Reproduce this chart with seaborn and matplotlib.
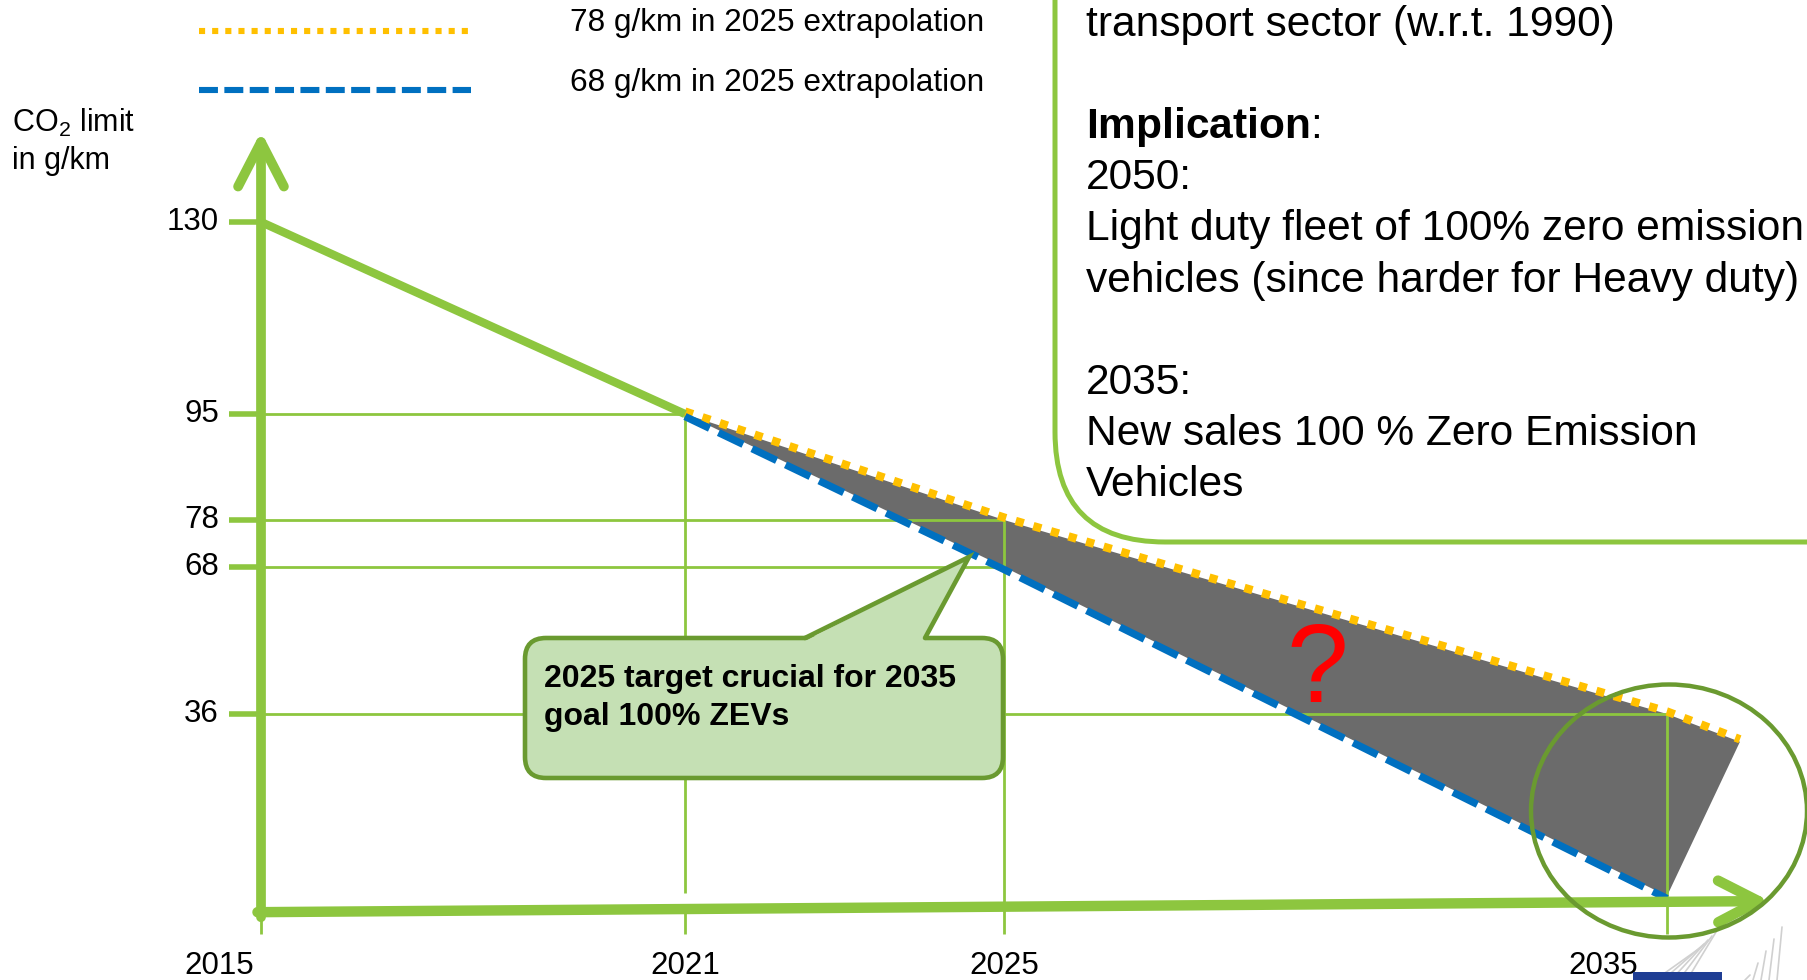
import numpy as np
import matplotlib
matplotlib.use("Agg")
import matplotlib.pyplot as plt
from matplotlib.patches import FancyBboxPatch, Ellipse, Polygon, Rectangle
from matplotlib.transforms import offset_copy
import seaborn as sns

# CO2 limits for new cars (g/km)
hist_years = [2015, 2021]
hist_limits = [130, 95]
high_years = [2021, 2025, 2035, 2036.1]      # 78 g/km in 2025, extrapolated
high_limits = [95, 78, 36, 30.5]
low_years = [2021, 2025, 2035]               # 68 g/km in 2025, extrapolated
low_limits = [95, 68, 0]
tick_years = [2015, 2021, 2025, 2035]
tick_limits = [130, 95, 78, 68, 36]
legend_labels = ["78 g/km in 2025 extrapolation", "68 g/km in 2025 extrapolation"]
box_lines = ["transport sector (w.r.t. 1990)", "", r"$\mathbf{Implication}$:", "2050:",
             "Light duty fleet of 100% zero emission",
             "vehicles (since harder for Heavy duty)", "", "2035:",
             "New sales 100 % Zero Emission", "Vehicles"]
callout_lines = ["2025 target crucial for 2035", "goal 100% ZEVs"]

GREEN = "#8DC63F"
DKGREEN = "#6A9A30"
YELLOW = "#FFC000"
BLUE = "#0070C0"
GRAY = "#6B6B6B"
CALLOUT = "#C5E0B4"

W, H = 1808, 980

sns.set_theme(style="white")
plt.rcParams["font.family"] = ["Liberation Sans", "DejaVu Sans"]
plt.rcParams["text.color"] = "black"
plt.rcParams["mathtext.fontset"] = "custom"
plt.rcParams["mathtext.rm"] = "Liberation Sans"
plt.rcParams["mathtext.bf"] = "Liberation Sans:bold"


def piecewise(src, dst):
    src = np.asarray(src, float)
    dst = np.asarray(dst, float)

    def f(v):
        v = np.asarray(v, float)
        lo = dst[0] + (v - src[0]) * (dst[1] - dst[0]) / (src[1] - src[0])
        hi = dst[-1] + (v - src[-1]) * (dst[-1] - dst[-2]) / (src[-1] - src[-2])
        return np.where(v < src[0], lo, np.where(v > src[-1], hi, np.interp(v, src, dst)))
    return f


# the slide is not drawn to scale: piecewise axes
x_src, x_px = [2015, 2021, 2025, 2035], [261, 685, 1004, 1667]
y_src, y_px = [0, 36, 68, 78, 95, 130], [H - 896, H - 714, H - 567, H - 520, H - 414, H - 222]
fx, ix = piecewise(x_src, x_px), piecewise(x_px, x_src)
fy, iy = piecewise(y_src, y_px), piecewise(y_px, y_src)

fig = plt.figure(figsize=(W / 100, H / 100), dpi=100)
ax = fig.add_axes([0, 0, 1, 1])
ax.set_xscale("function", functions=(fx, ix))
ax.set_yscale("function", functions=(fy, iy))

AXIS_Y0, AXIS_Y1 = -3.2, -1.0   # x axis is slightly tilted on the slide
TICK_LOW = -7.6

# grey band between the two extrapolations
ax.fill(high_years + low_years[::-1], high_limits + low_limits[::-1], color=GRAY, lw=0, zorder=1)

# guide lines
grid_kw = dict(color=GREEN, lw=2.0, zorder=2, solid_capstyle="butt")
for yr, v in [(2021, 95), (2025, 78), (2025, 68), (2035, 36)]:
    ax.plot([2015, yr], [v, v], **grid_kw)
ax.plot([2021, 2021], [95, 0.5], **grid_kw)
ax.plot([2025, 2025], [78, TICK_LOW], **grid_kw)
ax.plot([2035, 2035], [36, TICK_LOW], **grid_kw)
for yr in [2015, 2021]:
    ax.plot([yr, yr], [AXIS_Y0, TICK_LOW], **grid_kw)
for v in tick_limits:
    ax.plot([2014.55, 2015], [v, v], color=GREEN, lw=4, zorder=2, solid_capstyle="butt")

# the dashed lines sit just outside the grey band
up = offset_copy(ax.transData, fig=fig, x=0, y=2.5, units="dots")
down = offset_copy(ax.transData, fig=fig, x=0, y=-2.5, units="dots")
sns.lineplot(x=high_years, y=high_limits, ax=ax, color=YELLOW, lw=6.0, zorder=3,
             linestyle=(0, (1.0, 1.2)), legend=False, transform=up)
sns.lineplot(x=low_years, y=low_limits, ax=ax, color=BLUE, lw=5.3, zorder=3,
             linestyle=(0, (3.7, 1.35)), legend=False, transform=down)
sns.lineplot(x=hist_years, y=hist_limits, ax=ax, color=GREEN, lw=6.0, zorder=4,
             solid_capstyle="butt", legend=False)

# axes arrows
arrow_kw = dict(arrowstyle="->, head_length=3.2, head_width=1.65", mutation_scale=10,
                lw=7, color=GREEN, shrinkA=0, shrinkB=0, capstyle="round", joinstyle="round")
ax.annotate("", xy=(2015, 146.5), xytext=(2015, AXIS_Y0 - 1), arrowprops=arrow_kw, zorder=5)
arrow_kw2 = dict(arrow_kw, arrowstyle="->, head_length=2.9, head_width=1.5", lw=7.5)
ax.annotate("", xy=(2036.55, AXIS_Y1), xytext=(2014.95, AXIS_Y0), arrowprops=arrow_kw2, zorder=5)

# tick labels
for v in tick_limits:
    ax.annotate(str(v), xy=(2015, v), xytext=(-42, 0), textcoords="offset pixels",
                ha="right", va="center", fontsize=22.5)
for yr, dx in zip(tick_years, [-42, 0, 0, -64]):
    ax.annotate(str(yr), xy=(yr, 0), xytext=(dx, -70), textcoords="offset pixels",
                ha="center", va="center", fontsize=22.5)

ax.set_xlim(ix(0), ix(W))
ax.set_ylim(iy(0), iy(H))
ax.axis("off")

# overlay in slide pixels for the decorations
ov = fig.add_axes([0, 0, 1, 1])
ov.set_xlim(0, W)
ov.set_ylim(H, 0)
ov.axis("off")

ov.text(1317, 673, "?", color="red", fontsize=80, ha="center", va="center")

ov.plot([199, 471], [31, 31], color=YELLOW, lw=4.4, linestyle=(0, (1.0, 1.15)))
ov.plot([199, 471], [90, 90], color=BLUE, lw=4.4, linestyle=(0, (3.1, 1.05)))
for y, lab in zip([23, 83], legend_labels):
    ov.text(570, y, lab, fontsize=22.7, va="center")
ov.text(12, 123, r"CO$_\mathregular{2}$ limit", fontsize=22, va="center")
ov.text(12, 161, "in g/km", fontsize=22, va="center")

# text box, top right
ov.add_patch(FancyBboxPatch((1055, -300), 1000, 842, boxstyle="round,pad=0,rounding_size=110",
                            fc="none", ec=GREEN, lw=3.6))
for i, line in enumerate(box_lines):
    ov.text(1086, 25 + 51.1 * i, line, fontsize=30.6, va="center")

# callout
ov.add_patch(FancyBboxPatch((525, 638), 478, 140, boxstyle="round,pad=0,rounding_size=21",
                            fc=CALLOUT, ec=DKGREEN, lw=3.3, zorder=3))
ov.add_patch(Polygon([(805, 641), (969, 557), (925, 641)], fc=CALLOUT, ec="none", zorder=4))
ov.plot([805, 969, 925], [638, 557, 638], color=DKGREEN, lw=3.3, zorder=5, solid_joinstyle="miter")
for i, line in enumerate(callout_lines):
    ov.text(544, 679 + 38 * i, line, fontsize=23, fontweight="bold", va="center", zorder=6)

# circle around 2035
ov.add_patch(Ellipse((1669, 811), 276, 253, fc="none", ec=DKGREEN, lw=3.2, zorder=6))

# logo fragment
ov.add_patch(Rectangle((1633, 972), 89, 10, fc="#1F3E94", ec="none", zorder=2))
for k in range(5):
    ov.plot([1655 + 8 * k, 1700 + 4 * k], [980, 948 - 4 * k], color="#D0D0D0", lw=1.2, zorder=1)
    ov.plot([1745 + 8 * k, 1750 + 8 * k], [980, 975 - 12 * k], color="#D0D0D0", lw=1.2, zorder=1)

fig.savefig("out.png", dpi=100)
